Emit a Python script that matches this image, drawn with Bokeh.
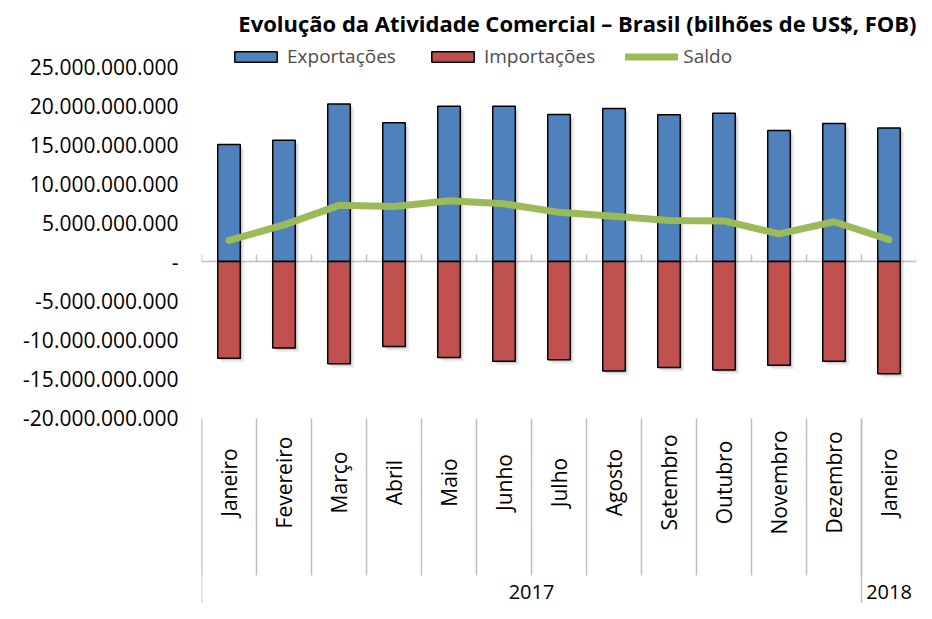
from math import pi
from bokeh.plotting import figure
from bokeh.models import (ColumnDataSource, Range1d, FixedTicker, CustomJSTickFormatter,
                          Legend, LegendItem, Span)
from bokeh.embed import file_html
from bokeh.resources import INLINE
from bokeh.core.properties import value

# ---------------- data ----------------
months = ["Janeiro", "Fevereiro", "Março", "Abril", "Maio", "Junho", "Julho",
          "Agosto", "Setembro", "Outubro", "Novembro", "Dezembro", "Janeiro"]
years = ["2017"] * 12 + ["2018"]
exportacoes = [15.0e9, 15.55e9, 20.2e9, 17.8e9, 19.9e9, 19.9e9, 18.85e9,
               19.6e9, 18.8e9, 19.0e9, 16.8e9, 17.7e9, 17.1e9]
importacoes = [-12.4e9, -11.1e9, -13.1e9, -10.9e9, -12.3e9, -12.8e9, -12.6e9,
               -14.05e9, -13.6e9, -13.9e9, -13.3e9, -12.8e9, -14.4e9]
saldo = [2.7e9, 4.7e9, 7.2e9, 7.05e9, 7.8e9, 7.4e9, 6.3e9,
         5.8e9, 5.25e9, 5.2e9, 3.55e9, 5.1e9, 2.8e9]
y_ticks = [-20e9, -15e9, -10e9, -5e9, 0, 5e9, 10e9, 15e9, 20e9, 25e9]
title_text = "Evolução da Atividade Comercial – Brasil (bilhões de US$, FOB)"

# ---------------- styling ----------------
FONT = "Open Sans"
BLUE = "#4F81BD"
RED = "#C0504D"
GREEN = "#9BBB59"
GRID_GRAY = "#BFBFBF"

W, H = 916, 603
ZERO = 261              # pixel row of the zero line
PX = 1e9 / 7.8          # data units per pixel (vertical)
Y_TOP = ZERO * PX
Y_BOT = -(H - ZERO) * PX


def row(px):
    """data y for a pixel row of the canvas (for decorations only)"""
    return (ZERO - px) * PX


n = len(months)
xs = [i + 0.5 for i in range(n)]

p = figure(width=W, height=H, output_backend="svg", toolbar_location=None,
           x_range=Range1d(0, n), y_range=Range1d(Y_BOT, Y_TOP),
           min_border_left=201, min_border_right=0, min_border_top=0,
           min_border_bottom=0)
p.outline_line_color = None
p.grid.visible = False
p.xaxis.visible = False
p.background_fill_color = "white"
p.border_fill_color = "white"

ya = p.yaxis[0]
ya.ticker = FixedTicker(ticks=y_ticks)
ya.formatter = CustomJSTickFormatter(code="""
if (tick == 0) return '-';
const s = Math.abs(tick).toFixed(0).replace(/\\B(?=(\\d{3})+(?!\\d))/g, '.');
return (tick < 0 ? '-' : '') + s;
""")
ya.axis_line_color = None
ya.major_tick_line_color = None
ya.minor_tick_line_color = None
ya.major_tick_out = 0
ya.major_tick_in = 0
ya.minor_tick_out = 0
ya.major_label_text_font = FONT
ya.major_label_text_font_size = "21px"
ya.major_label_text_color = "#000000"
ya.major_label_standoff = 23

# zero axis line and small upward ticks at category boundaries
p.add_layout(Span(location=0, dimension="width", line_color=GRID_GRAY,
                  line_width=1.5, level="underlay"))
bounds = list(range(n + 1))
p.segment(x0=bounds, x1=bounds, y0=[0] * len(bounds), y1=[7 * PX] * len(bounds),
          line_color=GRID_GRAY, line_width=1.5)

# soft shadows under the columns
for off, a in ((2, 0.14), (4, 0.07)):
    p.vbar(x=[x + off / 55 for x in xs], width=0.41,
           top=[e - off * PX for e in exportacoes],
           bottom=[m - off * PX for m in importacoes],
           fill_color="black", fill_alpha=a, line_color=None)

src = ColumnDataSource(dict(x=xs, exp=exportacoes, imp=importacoes, saldo=saldo,
                            month=months))
r_exp = p.vbar(x="x", top="exp", bottom=0, width=0.41, source=src,
               fill_color=BLUE, line_color="black", line_width=1.5)
r_imp = p.vbar(x="x", top=0, bottom="imp", width=0.41, source=src,
               fill_color=RED, line_color="black", line_width=1.5)
r_sal = p.line(x="x", y="saldo", source=src, line_color=GREEN, line_width=7,
               line_cap="round", line_join="round")

# two-level category axis drawn at the bottom
sep_top = row(418)
sep_month_bot = row(575)
p.segment(x0=bounds[:-1], x1=bounds[:-1], y0=[sep_top] * n,
          y1=[sep_month_bot] * n, line_color=GRID_GRAY, line_width=1.5)

year_bounds = [0] + [i for i in range(1, n) if years[i] != years[i - 1]]
p.segment(x0=year_bounds, x1=year_bounds, y0=[sep_top] * len(year_bounds),
          y1=[Y_BOT] * len(year_bounds), line_color=GRID_GRAY, line_width=1.5)

p.text(x="x", y=row(482), text="month", source=src, angle=pi / 2,
       text_align="center", text_baseline="middle", text_font=value(FONT),
       text_font_size="21px", text_color="#000000")

year_names = []
year_x = []
for i, yb in enumerate(year_bounds):
    end = year_bounds[i + 1] if i + 1 < len(year_bounds) else n
    year_names.append(years[yb])
    year_x.append((yb + end) / 2)
p.text(x=year_x, y=[row(591)] * len(year_x), text=year_names,
       text_align="center", text_baseline="middle", text_font=value(FONT),
       text_font_size="20px", text_color="#000000")

# title
p.text(x=[n], y=[row(22)], text=[title_text], text_align="right",
       text_baseline="middle", text_font=value(FONT), text_font_size="22px",
       text_font_style="bold", text_color="#000000")

legend = Legend(items=[LegendItem(label="Exportações", renderers=[r_exp]),
                       LegendItem(label="Importações", renderers=[r_imp]),
                       LegendItem(label="Saldo", renderers=[r_sal])],
                orientation="horizontal", location=(28, 534),
                glyph_width=53, glyph_height=13, label_standoff=5, spacing=30,
                padding=0, margin=0, border_line_color=None,
                background_fill_alpha=0, label_text_font=FONT,
                label_text_font_size="19px", label_text_color="#4D4D4D")
p.add_layout(legend)

open("out.html", "w").write(file_html(p, INLINE))
